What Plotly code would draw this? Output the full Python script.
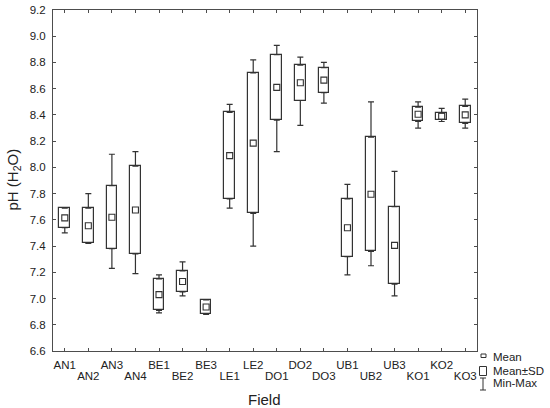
import plotly.graph_objects as go

fields = ["AN1", "AN2", "AN3", "AN4", "BE1", "BE2", "BE3", "LE1", "LE2",
          "DO1", "DO2", "DO3", "UB1", "UB2", "UB3", "KO1", "KO2", "KO3"]
ph_mean = [7.615, 7.555, 7.62, 7.675, 7.03, 7.13, 6.935, 8.09, 8.185,
           8.61, 8.645, 8.665, 7.54, 7.795, 7.405, 8.405, 8.39, 8.40]
ph_sd = [0.075, 0.135, 0.24, 0.335, 0.12, 0.08, 0.055, 0.33, 0.535,
         0.25, 0.135, 0.095, 0.22, 0.435, 0.295, 0.055, 0.025, 0.065]
ph_min = [7.50, 7.42, 7.23, 7.19, 6.89, 7.02, 6.88, 7.69, 7.40,
          8.12, 8.32, 8.49, 7.18, 7.25, 7.02, 8.30, 8.35, 8.30]
ph_max = [7.69, 7.80, 8.10, 8.12, 7.18, 7.28, 6.99, 8.48, 8.82,
          8.93, 8.84, 8.80, 7.87, 8.50, 7.97, 8.50, 8.45, 8.52]
y_ticks = [6.6, 6.8, 7.0, 7.2, 7.4, 7.6, 7.8, 8.0, 8.2, 8.4, 8.6, 8.8, 9.0, 9.2]

W, H = 550, 408
L, R, T, B = 53, 73, 10, 57
PW, PH = W - L - R, H - T - B
FONT = "Liberation Sans, Arial, sans-serif"
INK = "#333333"
FRAME = "#4d4d4d"


def fx(p):
    return (p - L) / PW


def fy(p):
    return (H - B - p) / PH


pos = list(range(len(fields)))
lo = [m - s for m, s in zip(ph_mean, ph_sd)]
hi = [m + s for m, s in zip(ph_mean, ph_sd)]

fig = go.Figure()

# Mean +- SD boxes
fig.add_trace(go.Bar(
    x=pos, y=[2 * s for s in ph_sd], base=lo, width=0.45,
    marker=dict(color="white", line=dict(color=INK, width=1.2)),
    showlegend=False, hoverinfo="skip",
))

# whiskers: box edge -> max, box edge -> min
fig.add_trace(go.Scatter(
    x=pos, y=hi, mode="markers",
    marker=dict(size=1, color="rgba(0,0,0,0)"),
    error_y=dict(type="data", symmetric=False,
                 array=[max(0, a - b) for a, b in zip(ph_max, hi)],
                 arrayminus=[0] * len(fields),
                 color=INK, thickness=1.2, width=3),
    showlegend=False, hoverinfo="skip",
))
fig.add_trace(go.Scatter(
    x=pos, y=lo, mode="markers",
    marker=dict(size=1, color="rgba(0,0,0,0)"),
    error_y=dict(type="data", symmetric=False,
                 array=[0] * len(fields),
                 arrayminus=[max(0, b - a) for a, b in zip(ph_min, lo)],
                 color=INK, thickness=1.2, width=3),
    showlegend=False, hoverinfo="skip",
))

# means
fig.add_trace(go.Scatter(
    x=pos, y=ph_mean, mode="markers", text=fields,
    marker=dict(symbol="square-open", size=6, color=INK, line=dict(width=1.1)),
    showlegend=False,
))

# invisible copy of the means on x2 so the lower label row gets drawn
fig.add_trace(go.Scatter(
    x=pos[1::2], y=ph_mean[1::2], xaxis="x2", mode="markers",
    marker=dict(size=1, opacity=0), showlegend=False, hoverinfo="skip",
))

tick_font = dict(family=FONT, size=11.5, color="#222222")
axis_common = dict(
    showline=True, linecolor=FRAME, linewidth=1, mirror="ticks",
    ticks="inside", ticklen=3, tickcolor=FRAME, showgrid=False,
    zeroline=False, tickfont=tick_font,
)
x_range = [-0.5, len(fields) - 0.5]

# upper row of labels (AN1, AN3, ...) on the main axis, which also carries all ticks
fig.update_xaxes(
    range=x_range, tickmode="array", tickangle=0, tickvals=pos,
    ticktext=[f if i % 2 == 0 else " " for i, f in enumerate(fields)],
    ticklabelstandoff=3, **axis_common,
)
# lower row of labels (AN2, AN4, ...) on an overlaid axis
fig.update_layout(xaxis2=dict(
    overlaying="x", anchor="y", side="bottom", range=x_range,
    tickmode="array", tickangle=0, tickvals=pos[1::2], ticktext=fields[1::2],
    ticks="", showline=False, showgrid=False, zeroline=False,
    ticklabelstandoff=16, tickfont=tick_font,
))
fig.update_yaxes(
    range=[6.6, 9.2], tickmode="array", tickvals=y_ticks,
    ticktext=[f"{v:.1f}" for v in y_ticks], ticklabelstandoff=4, **axis_common,
)

# legend drawn by hand, Statistica style
legend_shapes = [
    dict(type="rect", x0=fx(481), x1=fx(486), y0=fy(354), y1=fy(357.5)),
    dict(type="rect", x0=fx(479.5), x1=fx(486.5), y0=fy(366.5), y1=fy(375.5)),
    dict(type="line", x0=fx(483), x1=fx(483), y0=fy(378), y1=fy(390)),
    dict(type="line", x0=fx(480), x1=fx(486), y0=fy(378), y1=fy(378)),
    dict(type="line", x0=fx(480), x1=fx(486), y0=fy(390), y1=fy(390)),
]
for s in legend_shapes:
    s.update(xref="paper", yref="paper", line=dict(color=INK, width=1))
    fig.add_shape(**s)

legend_text = [("Mean", 356.5), ("Mean±SD", 370.8), ("Min-Max", 383.5)]
for txt, py in legend_text:
    fig.add_annotation(
        text=txt, xref="paper", yref="paper", x=fx(491), y=fy(py),
        xanchor="left", yanchor="middle", showarrow=False,
        font=dict(family=FONT, size=11.5, color="#222222"),
    )

fig.add_annotation(
    text="Field", xref="paper", yref="paper", x=fx(264), y=fy(399),
    xanchor="center", yanchor="middle", showarrow=False,
    font=dict(family=FONT, size=15, color="#222222"),
)
fig.add_annotation(
    text="pH (H<sub>2</sub>O)", xref="paper", yref="paper",
    x=fx(12.5), y=fy(180), textangle=-90,
    xanchor="center", yanchor="middle", showarrow=False,
    font=dict(family=FONT, size=15, color="#222222"),
)

fig.update_layout(
    width=W, height=H,
    margin=dict(l=L, r=R, t=T, b=B, autoexpand=False),
    plot_bgcolor="white", paper_bgcolor="white",
    showlegend=False, bargap=0,
)

# drop the browser's default body margin so the figure sits at 0,0
fig.write_html("out.html", config={"displayModeBar": False},
               post_script="document.body.style.margin='0';")
